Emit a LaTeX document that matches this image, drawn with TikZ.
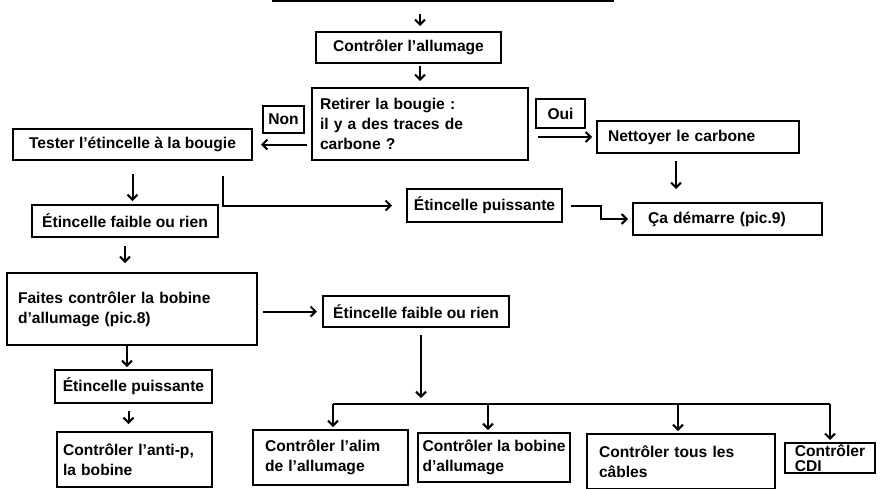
\documentclass[tikz,border=0pt]{standalone}
\usepackage{fontspec}
\setmainfont{Liberation Sans}
\usetikzlibrary{arrows.meta}

\newcommand\boxfont{\fontsize{15.6}{20}\selectfont\bfseries}
\tikzset{
  box/.style={draw, line width=2pt, inner xsep=8pt, inner ysep=3pt, font=\boxfont, align=left},
  tag/.style={draw, line width=2pt, inner sep=2pt, font=\boxfont},
}

\begin{document}
\begin{tikzpicture}[x=1pt, y=-1pt, line width=2pt, >={Straight Barb[length=5pt,width=10pt]}]
\clip (0,0) rectangle (881,488);

\begin{scope}[every node/.style={box}]
    \node[minimum width=340, minimum height=30] (start) at (443,-14) {};
    \node[minimum width=185, minimum height=31] (allum) at (408.5,47.5) {Contrôler l’allumage};
    \node[minimum width=216, minimum height=72, text width=200pt] (retirer) at (420,124) {Retirer la bougie :\\il y a des traces de\\carbone ?};
    \node[minimum width=239, minimum height=31] (tester) at (132.5,144.5) {Tester l’étincelle à la bougie};
    \node[minimum width=202, minimum height=32, text width=180pt, inner xsep=11pt] (nettoyer) at (698,137) {Nettoyer le carbone};
    \node[minimum width=155, minimum height=33, inner xsep=4pt] (etpuis1) at (484.5,205.5) {Étincelle puissante};
    \node[minimum width=189, minimum height=32, text width=159pt, inner xsep=15pt] (demarre) at (727.5,219) {Ça démarre (pic.9)};
    \node[minimum width=186, minimum height=32] (etfaib1) at (125,221) {Étincelle faible ou rien};
    \node[minimum width=250, minimum height=72, text width=228pt, inner xsep=11pt] (faites) at (132,309) {Faites contrôler la bobine\\d’allumage (pic.8)};
    \node[minimum width=186, minimum height=31] (etfaib2) at (416,311.5) {Étincelle faible ou rien};
    \node[minimum width=157, minimum height=33, inner xsep=4pt] (etpuis2) at (133.5,386.5) {Étincelle puissante};
    \node[minimum width=155, minimum height=55, text width=143pt, inner xsep=6pt] (antip) at (134.5,459.5) {Contrôler l’anti-p,\\la bobine};
    \node[minimum width=155, minimum height=55, text width=131pt, inner xsep=12pt] (alim) at (330.5,457.5) {Contrôler l’alim\\de l’allumage};
    \node[minimum width=152, minimum height=49, inner xsep=4pt] (bobine) at (494,457.5) {Contrôler la bobine\\d’allumage};
    \node[minimum width=188, minimum height=55, text width=164pt, inner xsep=12pt] (cables) at (681,461.5) {Contrôler tous les\\câbles};
    \node[minimum width=90, minimum height=30, inner xsep=10pt, inner ysep=1pt] (cdi) at (830,458) {Contrôler\\[-5pt]CDI};
\end{scope}

\begin{scope}[every node/.style={tag}]
    \node[minimum width=41, minimum height=27] (non) at (283.5,119.5) {Non};
    \node[minimum width=49, minimum height=29] (oui) at (560.5,113.5) {Oui};
\end{scope}

\begin{scope}[]
    \coordinate (bus)  at (421,404);
    \coordinate (busL) at (333,404);
    \coordinate (bus2) at (488,404);
    \coordinate (bus3) at (678,404);
    \coordinate (busR) at (830,404);
\end{scope}

\begin{scope}[]
    \path [->] (start.south -| retirer.north) edge[shorten <=12pt, shorten >=5pt] (allum.north -| retirer.north);
    \path [->] (allum.south -| retirer.north) edge[shorten <=2pt, shorten >=6pt] (retirer.north);
    \path [->] (retirer.west |- tester.east) edge[shorten <=4pt, shorten >=8pt] (tester.east);
    \path [->] (retirer.east |- nettoyer.west) edge[shorten <=9pt, shorten >=4pt] (nettoyer.west);
    \path [->] ([xshift=-22pt]nettoyer.south) edge[shorten <=7pt, shorten >=13pt] ([xshift=-22pt]nettoyer.south |- demarre.north);
    \path [->] (tester.south) edge[shorten <=13pt, shorten >=3pt] (tester.south |- etfaib1.north);
    \draw [->, shorten <=15pt, shorten >=14pt] ([xshift=90pt]tester.south) |- (etpuis1.west);
    \draw [->, shorten <=8pt, shorten >=4pt] (etpuis1.east) -- ++(38,0) |- (demarre.west);
    \path [->] (etfaib1.south) edge[shorten <=8pt, shorten >=9pt] (etfaib1.south |- faites.north);
    \path [->] (faites.east |- etfaib2.west) edge[shorten <=5pt, shorten >=5pt] (etfaib2.west);
    \path [->] ([xshift=-5pt]faites.south) edge[shorten >=2pt] ([xshift=-5pt]faites.south |- etpuis2.north);
    \path [->] ([xshift=-5pt]etpuis2.south) edge[shorten <=7pt, shorten >=7pt] ([xshift=-5pt]etpuis2.south |- antip.north);
    \path [->] (etfaib2.south -| bus) edge[shorten <=7pt, shorten >=6pt] (bus);
    \draw (busL) -- (busR);
    \path [->] (busL) edge[shorten >=2pt] (busL |- alim.north);
    \path [->] (bus2) edge[shorten >=2pt] (bus2 |- bobine.north);
    \path [->] (bus3) edge[shorten >=2pt] (bus3 |- cables.north);
    \path [->] (busR) edge[shorten >=2pt] (busR |- cdi.north);
\end{scope}
\end{tikzpicture}
\end{document}
